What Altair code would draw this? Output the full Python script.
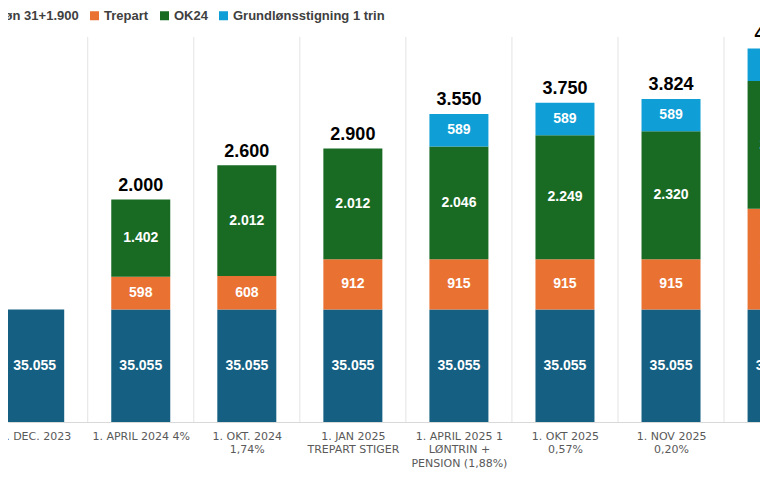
import altair as alt
import pandas as pd

# ---- data ----
label_lines = [
    ["1. DEC. 2023"],
    ["1. APRIL 2024 4%"],
    ["1. OKT. 2024", "1,74%"],
    ["1. JAN 2025", "TREPART STIGER"],
    ["1. APRIL 2025 1", "LØNTRIN +", "PENSION (1,88%)"],
    ["1. OKT 2025", "0,57%"],
    ["1. NOV 2025", "0,20%"],
    ["1. JAN 2026", "TREPART STIGER"],
]
series = ["Grundløn 31+1.900", "Trepart", "OK24", "Grundlønsstigning 1 trin"]
colors = ["#156082", "#E97132", "#196B24", "#0F9ED5"]

base_salary = [35055, 35055, 35055, 35055, 35055, 35055, 35055, 35055]
# the base segment is drawn with a fixed (not-to-scale) height in the original
base_bar_height = [2040, 2040, 2040, 2040, 2040, 2040, 2040, 2040]
trepart = [None, 598, 608, 912, 915, 915, 915, 1830]
ok24 = [None, 1402, 2012, 2012, 2046, 2249, 2320, 2320]
trin = [None, None, None, None, 589, 589, 589, 589]
totals = [None, 2000, 2600, 2900, 3550, 3750, 3824, 4739]


def fmt(v):
    return f"{v:,}".replace(",", ".")


rows = []
tot_rows = []
for i in range(len(label_lines)):
    segs = [
        (series[0], base_bar_height[i], base_salary[i]),
        (series[1], trepart[i], trepart[i]),
        (series[2], ok24[i], ok24[i]),
        (series[3], trin[i], trin[i]),
    ]
    top = 0
    for k, (s, h, lab) in enumerate(segs):
        if h is None:
            continue
        rows.append(dict(idx=i, series=s, order=k, h=h, label=fmt(lab)))
        top += h
    if totals[i] is not None:
        tot_rows.append(dict(idx=i, top=top, label=fmt(totals[i])))

df = pd.DataFrame(rows)
df_tot = pd.DataFrame(tot_rows)
df_grid = pd.DataFrame({"g": [i + 0.5 for i in range(len(label_lines) - 1)]})

label_expr = "[" + ",".join(
    "[" + ",".join("'" + s + "'" for s in lines) + "]" for lines in label_lines
) + "][datum.value]"

xscale = alt.Scale(domain=[-0.2518, 6.839], nice=False, zero=False, padding=0)
yscale = alt.Scale(domain=[0, 6987], nice=False, zero=True, padding=0)

x_axis = alt.Axis(
    values=list(range(len(label_lines))),
    labelExpr=label_expr,
    grid=False,
    ticks=False,
    domain=True,
    domainColor="#d9d9d9",
    domainWidth=1,
    labelFont="DejaVu Sans",
    labelFontSize=11,
    labelColor="#595959",
    labelPadding=8,
    labelLineHeight=13.5,
    labelOverlap=False,
    labelFlush=False,
    labelBound=False,
    labelLimit=200,
    title=None,
)

grid = alt.Chart(df_grid).mark_rule(color="#e3e3e3", strokeWidth=1).encode(
    x=alt.X("g:Q", scale=xscale, axis=x_axis)
)

bars = (
    alt.Chart(df)
    .mark_bar(size=59, clip=True)
    .encode(
        x=alt.X("idx:Q", scale=xscale, axis=x_axis),
        y=alt.Y("h:Q", stack="zero", scale=yscale, axis=None),
        color=alt.Color(
            "series:N",
            scale=alt.Scale(domain=series, range=colors),
            sort=series,
            legend=alt.Legend(
                orient="none",
                legendX=-62,
                legendY=-28,
                direction="horizontal",
                columns=4,
                title=None,
                symbolType="square",
                symbolSize=81,
                symbolStrokeWidth=0,
                labelFont="Liberation Sans",
                labelFontSize=13,
                labelFontWeight="bold",
                labelColor="#404040",
                labelLimit=300,
                labelOffset=3,
                columnPadding=9,
                padding=0,
            ),
        ),
        order=alt.Order("order:Q"),
    )
)

seg_labels = (
    alt.Chart(df)
    .transform_stack(stack="h", as_=["y0", "y1"], groupby=["idx"], sort=[alt.SortField("order")])
    .transform_calculate(mid="(datum.y0 + datum.y1) / 2")
    .mark_text(
        font="Liberation Sans",
        fontSize=14,
        fontWeight="bold",
        color="white",
        baseline="middle",
        align="center",
    )
    .encode(
        x=alt.X("idx:Q", scale=xscale),
        y=alt.Y("mid:Q", scale=yscale),
        text="label:N",
    )
)

tot_labels = (
    alt.Chart(df_tot)
    .mark_text(
        font="Liberation Sans",
        fontSize=18,
        fontWeight="bold",
        color="black",
        baseline="middle",
        align="center",
        dy=-13.5,
    )
    .encode(
        x=alt.X("idx:Q", scale=xscale),
        y=alt.Y("top:Q", scale=yscale),
        text="label:N",
    )
)

chart = (
    alt.layer(grid, bars, seg_labels, tot_labels)
    .properties(
        width=752,
        height=385,
        autosize=alt.AutoSizeParams(type="none"),
        padding={"left": 0, "top": 29, "right": 0, "bottom": 50},
    )
    .configure_view(stroke=None)
)

chart.save("out.html", embed_options={"renderer": "svg", "actions": False})
